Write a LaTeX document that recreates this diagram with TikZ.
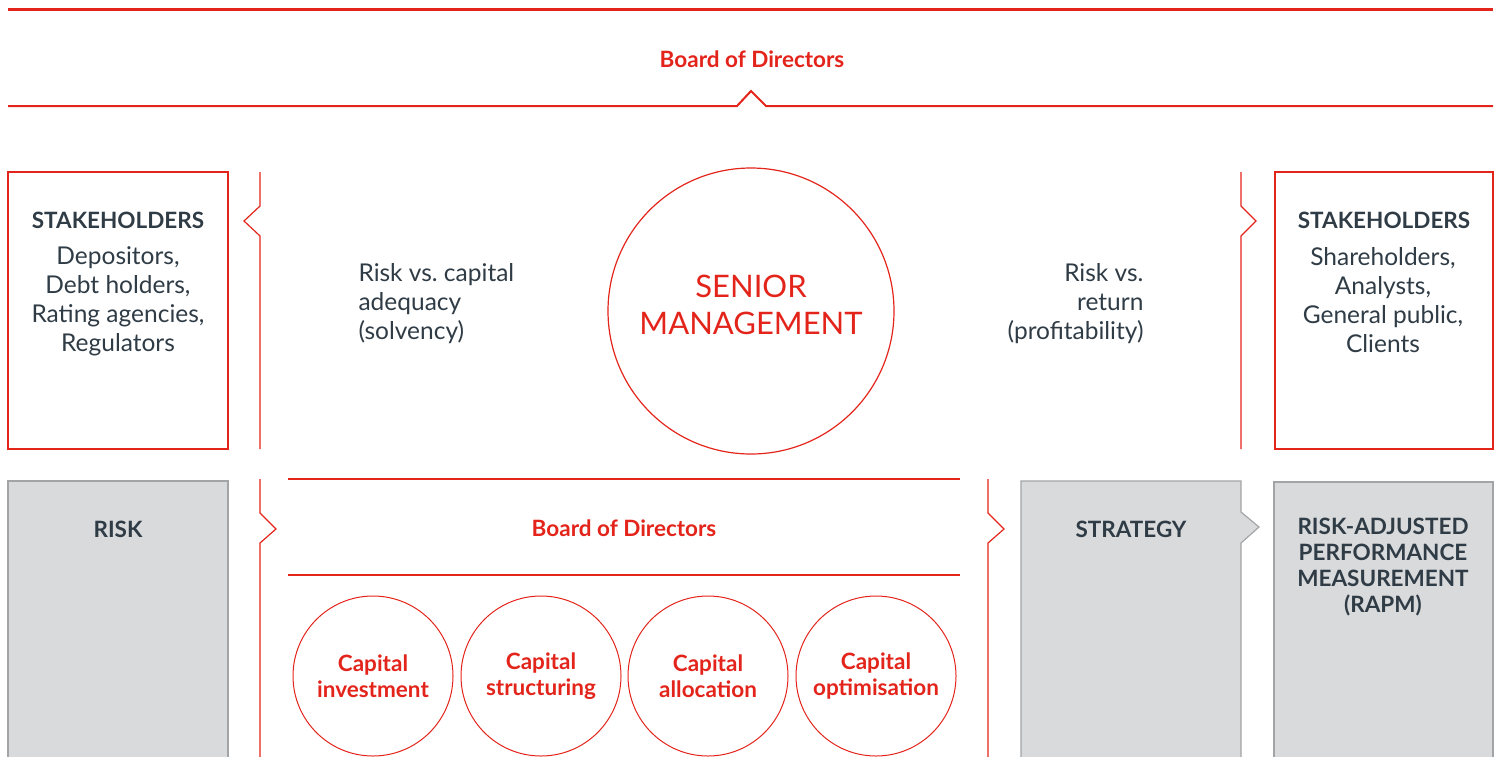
\documentclass[tikz,border=0pt]{standalone}
\usepackage{fontspec}
\setmainfont{Lato}
\definecolor{brand}{HTML}{E3241B}
\definecolor{ink}{HTML}{2F3C46}
\definecolor{panel}{HTML}{D9DADC}
\definecolor{edge}{HTML}{A3A4A6}
\frenchspacing

\begin{document}
\begin{tikzpicture}[
  x=1pt, y=-1pt,
  rln/.style={draw=brand, line width=1.2pt},
  tln/.style={draw=brand, line width=2.4pt},
  gbox/.style={fill=panel, draw=edge, line width=1.2pt},
  hd/.style={font=\fontsize{22.5}{26}\selectfont\bfseries, text=ink, align=center},
  bd/.style={font=\fontsize{24.5}{29}\selectfont, text=ink, align=center},
  rd/.style={font=\fontsize{22.5}{26}\selectfont\bfseries, text=brand, align=center},
  cpl/.style={circle, draw=brand, line width=1pt, minimum size=160pt, inner sep=0pt, rd},
]

\useasboundingbox (0,0) rectangle (1501,756);
\clip (0,0) rectangle (1501,756);

% top band
\draw [brand, line width=3pt] (8,9) -- (1493,9);
\node [rd] (bod) at (752,59) {Board of Directors};
\draw [brand, line width=2pt] (8,106) -- (737,106) -- (751,91) -- (766,106) -- (1493,106);

% upper row
\draw [rln] (8,172) rectangle (228,449);
\node [hd] (skl) at (118,220) {STAKEHOLDERS};
\node [bd] (skltxt) at (118,301) {Depositors,\\Debt holders,\\Rating agencies,\\Regulators};
\draw [rln] (260,172) -- (260,206) -- (244,221) -- (260,236) -- (260,449);

\node [bd, align=left, anchor=west] (solv) at (355,304) {Risk vs. capital\\adequacy\\(solvency)};
\node [circle, draw=brand, line width=1.2pt, minimum size=286pt] (senior) at (751,311) {};
\node [font=\fontsize{31}{37}\selectfont, text=brand, align=center] (sentxt) at (751,305) {SENIOR\\MANAGEMENT};
\node [bd, align=right, anchor=east] (prof) at (1147,304) {Risk vs.\\return\\(profitability)};

\draw [rln] (1241,172) -- (1241,206) -- (1256,221) -- (1241,236) -- (1241,449);
\draw [rln] (1275,172) rectangle (1493,449);
\node [hd] (skr) at (1384,220) {STAKEHOLDERS};
\node [bd] (skrtxt) at (1383,300) {Shareholders,\\Analysts,\\General public,\\Clients};

% lower row
\draw [gbox] (8,481) rectangle (228,770);
\node [hd] (risk) at (118,529) {RISK};
\draw [rln] (260,479) -- (260,513) -- (276,529) -- (260,543) -- (260,770);

\draw [tln] (288,479) -- (960,479);
\draw [tln] (288,575) -- (960,575);
\node [rd] (bod2) at (624,528) {Board of Directors};
\foreach \x/\nm/\txt in {373/inv/investment, 541/str/structuring, 708/alc/allocation, 876/opt/optimisation}
  \node [cpl] (\nm) at (\x,676) {Capital\\\txt};

\draw [rln] (988,479) -- (988,513) -- (1004,529) -- (988,543) -- (988,770);
\draw [gbox] (1021,770) -- (1021,481) -- (1241,481) -- (1241,512) -- (1259,527) -- (1241,543) -- (1241,770) -- cycle;
\node [hd] (strat) at (1131,529) {STRATEGY};

\draw [gbox] (1274,482) rectangle (1493,770);
\node [hd] (rapm) at (1383,567) {RISK-ADJUSTED\\PERFORMANCE\\MEASUREMENT\\(RAPM)};

\end{tikzpicture}
\end{document}
